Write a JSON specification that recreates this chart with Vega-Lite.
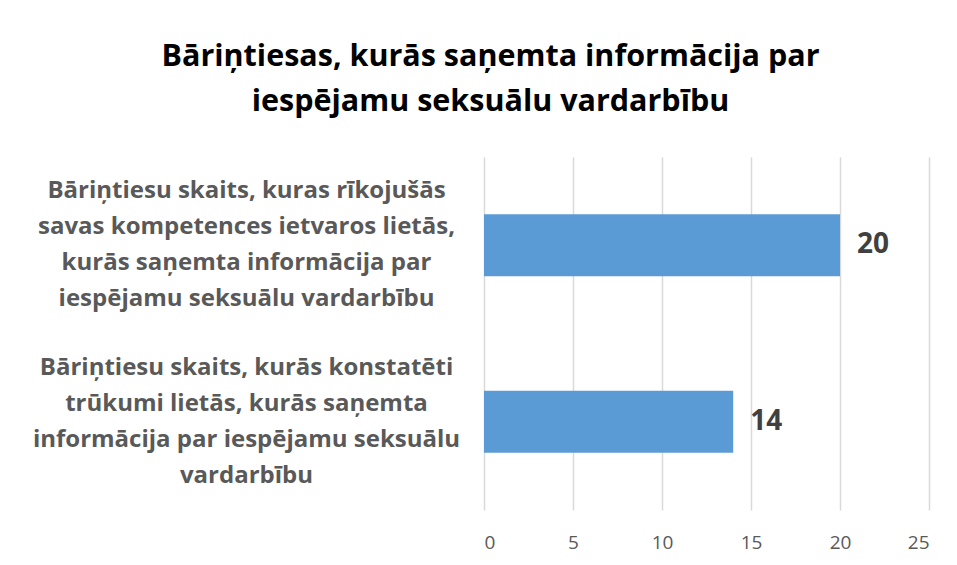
{
  "$schema": "https://vega.github.io/schema/vega-lite/v6.json",
  "autosize": "none",
  "width": 445,
  "height": 353,
  "padding": {"left": 484, "top": 157, "right": 28, "bottom": 55},
  "background": "white",
  "title": {
    "text": ["Bāriņtiesas, kurās saņemta informācija par", "iespējamu seksuālu vardarbību"],
    "font": "Open Sans",
    "fontSize": 30.5,
    "fontWeight": "bold",
    "color": "#000000",
    "lineHeight": 45,
    "anchor": "middle",
    "frame": "group",
    "dx": -216,
    "offset": 40
  },
  "data": {
    "values": [
      {"kategorija": "Bāriņtiesu skaits, kuras rīkojušās|savas kompetences ietvaros lietās,|kurās saņemta informācija par|iespējamu seksuālu vardarbību", "skaits": 20, "kartiba": 1},
      {"kategorija": "Bāriņtiesu skaits, kurās konstatēti|trūkumi lietās,  kurās saņemta|informācija par iespējamu seksuālu|vardarbību", "skaits": 14, "kartiba": 2}
    ]
  },
  "encoding": {
    "y": {
      "field": "kategorija",
      "type": "nominal",
      "sort": {"field": "kartiba"},
      "scale": {"paddingInner": 0.65, "paddingOuter": 0.325},
      "axis": {
        "title": null,
        "domain": false,
        "ticks": false,
        "labelExpr": "split(datum.label, '|')",
        "labelAlign": "center",
        "labelBaseline": "middle",
        "labelPadding": 238,
        "labelOffset": -54,
        "labelLimit": 600,
        "labelFont": "Open Sans",
        "labelFontSize": 24,
        "labelFontWeight": "bold",
        "labelColor": "#595959",
        "labelLineHeight": 36
      }
    },
    "x": {
      "field": "skaits",
      "type": "quantitative",
      "scale": {"domain": [0, 25]},
      "axis": {
        "title": null,
        "values": [0, 5, 10, 15, 20, 25],
        "domain": false,
        "ticks": false,
        "grid": true,
        "gridColor": "#D9D9D9",
        "gridWidth": 1.5,
        "labelFont": "Open Sans",
        "labelFontSize": 19,
        "labelColor": "#595959",
        "labelPadding": 23
      }
    }
  },
  "layer": [
    {"mark": {"type": "bar", "color": "#5B9BD5"}},
    {
      "mark": {"type": "text", "align": "left", "baseline": "middle", "dx": 17, "font": "Open Sans", "fontSize": 28, "fontWeight": "bold", "color": "#404040"},
      "encoding": {"text": {"field": "skaits", "type": "quantitative"}}
    }
  ],
  "config": {"view": {"stroke": null}}
}
